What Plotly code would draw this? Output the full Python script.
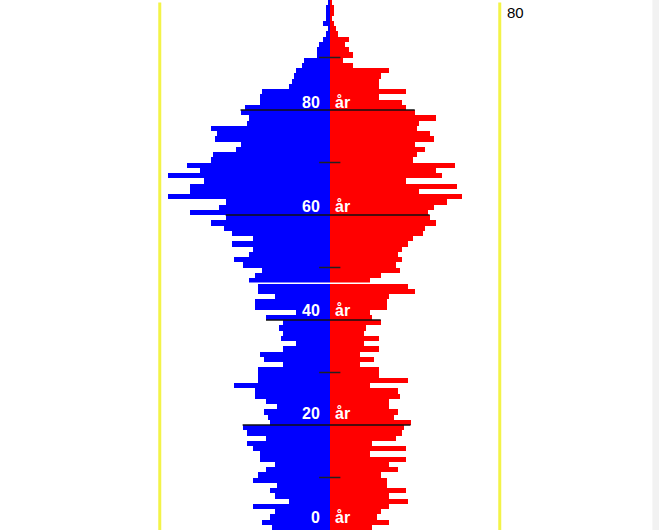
import plotly.graph_objects as go

# Age (years), one bar per year of age
ages = list(range(0, 101))

# Left side (blue) counts per age 0..100
men = [27, 32, 28, 26, 36, 19, 26, 28, 25, 36,
       34, 30, 26, 33, 33, 36, 39, 30, 39, 41,
       28, 29, 31, 25, 30, 35, 35, 45, 34, 34,
       34, 22, 31, 33, 22, 16, 23, 22, 24, 22,
       30, 16, 35, 35, 26, 34, 34, 38, 35, 32,
       41, 45, 38, 36, 46, 36, 46, 50, 56, 49,
       66, 52, 49, 76, 66, 66, 59, 76, 61, 67,
       56, 55, 44, 42, 54, 53, 56, 39, 38, 42,
       40, 33, 33, 32, 19, 18, 17, 16, 13, 12,
       6, 6, 5, 3, 2, 1, 3, 2, 2, 2,
       1]

# Right side (red) counts per age 0..100
women = [20, 28, 22, 24, 28, 37, 28, 36, 27, 27,
         24, 32, 28, 36, 19, 36, 20, 31, 34, 35,
         38, 30, 32, 28, 28, 33, 32, 19, 37, 23,
         23, 14, 21, 14, 23, 16, 23, 16, 17, 24,
         20, 19, 27, 27, 28, 40, 37, 19, 24, 33,
         31, 34, 32, 34, 37, 39, 44, 45, 50, 47,
         46, 49, 55, 62, 42, 60, 36, 53, 50, 59,
         39, 41, 45, 40, 49, 47, 41, 42, 50, 40,
         36, 34, 23, 36, 23, 23, 24, 28, 11, 6,
         11, 9, 7, 9, 4, 3, 2, 1, 2, 2,
         1]

label_ages = [0, 20, 40, 60, 80]        # labelled ages
line_ages = [20, 40, 60, 80]            # long dark lines
line_left = [41, 30, 49, 42]            # extent of those lines to the left
line_right = [38, 24, 47, 40]           # extent of those lines to the right
tick_ages = [10, 30, 50, 70, 90]        # short tick marks
scale_value = 80                         # yellow guide lines at +/- this value
scale_label = "80"
white_mark = (47, -38, 37)               # white separator line (age, left, right)

fig = go.Figure()
fig.add_trace(go.Bar(
    y=[a + 0.5 for a in ages], x=[-m for m in men], orientation="h",
    width=1.0, marker=dict(color="#0000ff", line=dict(width=0)),
    hoverinfo="skip"))
fig.add_trace(go.Bar(
    y=[a + 0.5 for a in ages], x=women, orientation="h",
    width=1.0, marker=dict(color="#ff0000", line=dict(width=0)),
    hoverinfo="skip"))

shapes = []
for sx in (-scale_value, scale_value):
    shapes.append(dict(type="line", x0=sx, x1=sx, y0=0, y1=100.5,
                       line=dict(color="#f3f348", width=3), layer="above"))
for a, l, r in zip(line_ages, line_left, line_right):
    shapes.append(dict(type="line", x0=-l, x1=r, y0=a, y1=a,
                       line=dict(color="#111111", width=1.5), layer="above"))
for a in tick_ages:
    shapes.append(dict(type="line", x0=-5, x1=5, y0=a, y1=a,
                       line=dict(color="#222222", width=1.5), layer="above"))
wa, wl, wr = white_mark
shapes.append(dict(type="line", x0=wl, x1=wr, y0=wa, y1=wa,
                   line=dict(color="#ffffff", width=1.5), layer="above"))
shapes.append(dict(type="rect", xref="paper", yref="paper", x0=0.99, x1=1.0,
                   y0=0, y1=1, fillcolor="#f2f2f2", line=dict(width=0), layer="below"))

annotations = []
for a in label_ages:
    ly = a * 0.99 + 2.3
    annotations.append(dict(x=-3.6, y=ly, text="<b>%d</b>" % a, showarrow=False,
                            xanchor="right", yanchor="middle",
                            font=dict(family="Liberation Sans, Arial", size=16, color="white")))
    annotations.append(dict(x=1.4, y=ly, text="<b>år</b>", showarrow=False,
                            xanchor="left", yanchor="middle",
                            font=dict(family="Liberation Sans, Arial", size=16, color="white")))
annotations.append(dict(x=scale_value + 2.5, y=98.5, text=scale_label, showarrow=False,
                        xanchor="left", yanchor="middle",
                        font=dict(family="Liberation Sans, Arial", size=15, color="black")))

fig.update_layout(
    width=659, height=530,
    margin=dict(l=0, r=0, t=0, b=0),
    paper_bgcolor="white", plot_bgcolor="white",
    barmode="overlay", bargap=0, showlegend=False,
    xaxis=dict(range=[-155.18, 154.94], visible=False, fixedrange=True),
    yaxis=dict(range=[0, 530 / 5.25], visible=False, fixedrange=True),
    shapes=shapes, annotations=annotations,
)

fig.write_html("out.html", config={"displayModeBar": False},
               post_script="document.body.style.margin='0';document.body.style.overflow='hidden';")
